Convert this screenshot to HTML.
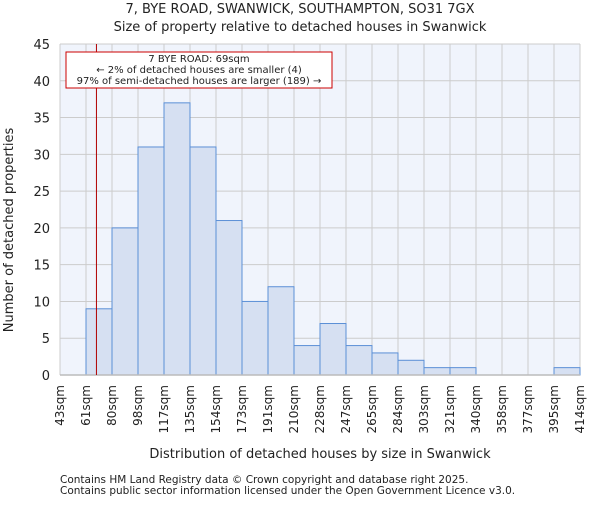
<!DOCTYPE html>
<html><head><meta charset="utf-8"><style>
body{margin:0;background:#fff;font-family:"Liberation Sans","DejaVu Sans",sans-serif}
svg text{font-family:"DejaVu Sans","Liberation Sans",sans-serif;fill:#222}
</style></head><body>
<svg id="chart" width="600" height="500" xmlns="http://www.w3.org/2000/svg">
<text x="300" y="13" font-size="13" text-anchor="middle">7, BYE ROAD, SWANWICK, SOUTHAMPTON, SO31 7GX</text>
<text x="300" y="31" font-size="13" text-anchor="middle">Size of property relative to detached houses in Swanwick</text>
<rect x="60" y="44" width="520" height="331" fill="#f0f4fc"/>
<g id="grid"></g><g id="bars"></g><g id="axes"></g>
<text x="320" y="458" font-size="13" text-anchor="middle">Distribution of detached houses by size in Swanwick</text>
<text transform="translate(13,230) rotate(-90)" font-size="13" text-anchor="middle">Number of detached properties</text>
<line id="marker" y1="44" y2="375" stroke="#b00000" stroke-width="1"/>
<rect x="66" y="52" width="266" height="36" fill="#fff" stroke="#c00" stroke-width="1"/>
<text x="199" y="62" font-size="10" text-anchor="middle">7 BYE ROAD: 69sqm</text>
<text x="199" y="73" font-size="10" text-anchor="middle">← 2% of detached houses are smaller (4)</text>
<text x="199" y="84" font-size="10" text-anchor="middle">97% of semi-detached houses are larger (189) →</text>
<text x="60" y="483" font-size="10.5">Contains HM Land Registry data © Crown copyright and database right 2025.</text>
<text x="60" y="494" font-size="10.5">Contains public sector information licensed under the Open Government Licence v3.0.</text>
</svg>
<script>
const binLabels=["43sqm","61sqm","80sqm","98sqm","117sqm","135sqm","154sqm","173sqm","191sqm","210sqm","228sqm","247sqm","265sqm","284sqm","303sqm","321sqm","340sqm","358sqm","377sqm","395sqm","414sqm"];
const counts=[0,9,20,31,37,31,21,10,12,4,7,4,3,2,1,1,0,0,0,1];
const yTicks=[0,5,10,15,20,25,30,35,40,45];
const binStart=43, binEnd=414, markerValue=69;
const X0=60,X1=580,Y0=375,Y1=44,YMAX=45;
const NS="http://www.w3.org/2000/svg";
const bw=(X1-X0)/counts.length;
const xi=i=>X0+i*bw;
const xv=v=>X0+(v-binStart)/(binEnd-binStart)*(X1-X0);
const y=v=>Y0-v/YMAX*(Y0-Y1);
function mk(t,a,p){const e=document.createElementNS(NS,t);for(const k in a)e.setAttribute(k,a[k]);p.appendChild(e);return e;}
const grid=document.getElementById('grid'),bars=document.getElementById('bars'),axes=document.getElementById('axes');
yTicks.forEach(t=>{const l=mk('line',{x1:X0,x2:X1,y1:y(t),y2:y(t),stroke:'#ccc'},grid);


const tx=mk('text',{x:X0-10,y:y(t)+5,'font-size':13,'text-anchor':'end'},axes);tx.textContent=t;

});
binLabels.forEach((lb,i)=>{const l=mk('line',{x1:xi(i),x2:xi(i),y1:Y1,y2:Y0,stroke:'#ccc'},grid);


const tx=mk('text',{transform:`translate(${xi(i)+4},${Y0+10}) rotate(-90)`,'font-size':12,'text-anchor':'end'},axes);tx.textContent=lb;

});
counts.forEach((c,i)=>{if(c<=0)return;const r=mk('rect',{x:xi(i),y:y(c),width:bw,height:Y0-y(c),fill:'#d6e0f2',stroke:'#5b8fd6','stroke-width':1},bars);

});
const ax=mk('line',{x1:X0,x2:X1,y1:Y0,y2:Y0,stroke:'#bbb','stroke-width':1.5},axes);


const m=document.getElementById('marker');m.setAttribute('x1',xv(markerValue));m.setAttribute('x2',xv(markerValue));
</script>
</body></html>
